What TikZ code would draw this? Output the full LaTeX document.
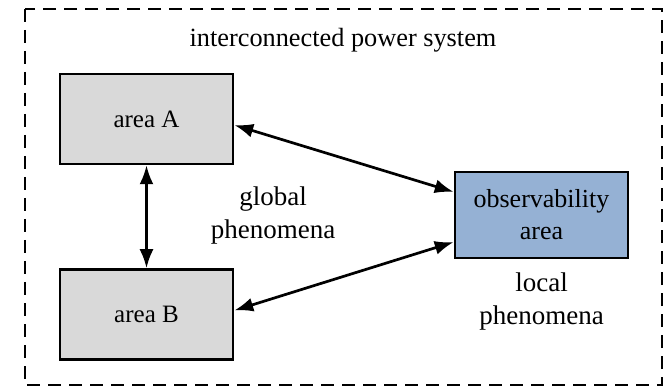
\documentclass[tikz,border=0pt]{standalone}
\usepackage{fontspec}
\setmainfont{Liberation Serif}
\usepackage{xcolor}
\usetikzlibrary{positioning, arrows.meta}
\definecolor{areagray}{RGB}{217,217,217}
\definecolor{obsblue}{RGB}{149,177,212}

\begin{document}
\begin{tikzpicture}[
    x=1pt, y=-1pt,
    box/.style={rectangle, draw, line width=2.5pt, minimum width=173pt, minimum height=90pt, align=center, font=\fontsize{25}{31}\selectfont},
    areabox/.style={box, fill=areagray},
    obsbox/.style={box, fill=obsblue, minimum height=86pt, inner sep=2pt, font=\fontsize{26}{32}\selectfont},
    lbl/.style={align=center, font=\fontsize{27}{33}\selectfont},
    link/.style={line width=2.7pt, {Latex[length=19pt,width=14pt]}-{Latex[length=19pt,width=14pt]}}
]
\useasboundingbox (0,0) rectangle (669,387);
\draw[line width=1.5pt, dash pattern=on 13pt off 8pt] (25,9) rectangle (662,385);

\node[lbl, font=\fontsize{26.3}{32}\selectfont] (title) at (343,40) {interconnected power system};

\node[areabox] (areaA) at (146.5,119) {area A};
\node[areabox, below=103pt of areaA] (areaB) {area B};
\node[obsbox] (obs) at (541.5,215) {observability\\area};

\node[lbl] (global) at (273,216) {global\\phenomena};
\node[lbl, below=10pt of obs] (local) {local\\phenomena};

\draw[link] (areaA) -- (areaB);
\draw[link] ([yshift=-6pt]areaA.east) -- ([yshift=23pt]obs.west);
\draw[link] ([yshift=4pt]areaB.east) -- ([yshift=-27pt]obs.west);
\end{tikzpicture}
\end{document}
